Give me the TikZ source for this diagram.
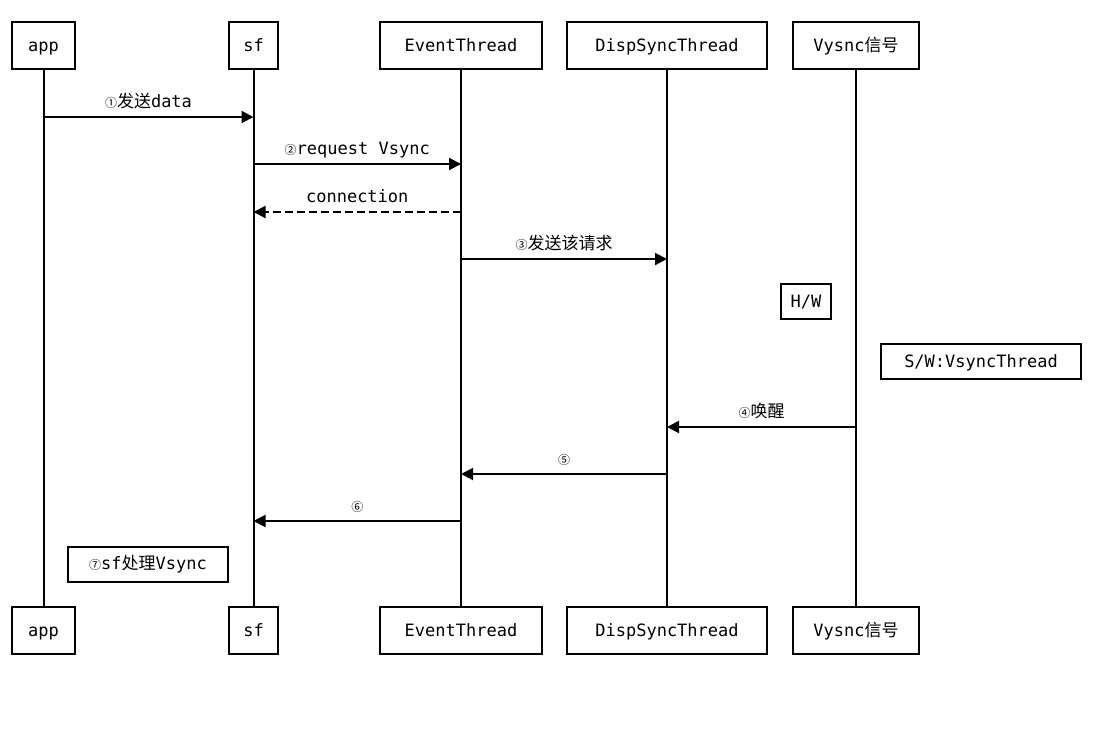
\documentclass[tikz,border=0pt]{standalone}
\usepackage{fontspec}
\setmainfont{DejaVu Sans Mono}
\newfontfamily\cjk{Noto Sans CJK SC}
\usetikzlibrary{arrows.meta}
\tikzset{
  obj/.style={draw, line width=2pt, minimum height=47pt, inner sep=0pt, text height=14pt, text depth=3pt, font=\fontsize{17}{20}\selectfont},
  note/.style={draw, line width=2pt, minimum height=35pt, inner sep=0pt, text height=14pt, text depth=3pt, font=\fontsize{17}{20}\selectfont},
  msg/.style={line width=2pt, -{Triangle[length=12pt,width=12pt]}},
  lbl/.style={above=3pt, inner sep=2pt, text height=12pt, text depth=3.5pt, font=\fontsize{17}{20}\selectfont},
}
\newcommand{\num}[1]{{\cjk\fontsize{12}{14}\selectfont #1}}
\begin{document}
\begin{tikzpicture}[x=1pt,y=-1pt]
\useasboundingbox (0,0) rectangle (1115,755);
%objects, top and bottom, with lifelines
\foreach \n/\x/\w/\t in {app/43.5/63/app, sf/253.5/49/sf, et/461/162/EventThread, ds/667/200/DispSyncThread, vs/856/126/{Vysnc{\cjk 信号}}}{
  \node[obj, minimum width=\w pt] (\n Top) at (\x,45.5) {\t};
  \node[obj, minimum width=\w pt] (\n Bot) at (\x,630.5) {\t};
  \draw[line width=2pt] (\n Top) -- (\n Bot);
}
%messages
\draw[msg] (appTop |- 0,117) -- node[lbl] {\num{①}{\cjk 发送}data} (sfTop |- 0,117);
\draw[msg] (sfTop |- 0,164) -- node[lbl] {\num{②}request Vsync} (etTop |- 0,164);
\draw[msg, dash pattern=on 8pt off 4pt] (etTop |- 0,212) -- node[lbl] {connection} (sfTop |- 0,212);
\draw[msg] (etTop |- 0,259) -- node[lbl] {\num{③}{\cjk 发送该请求}} (dsTop |- 0,259);
\draw[msg] (vsTop |- 0,427) -- node[lbl] {\num{④}{\cjk 唤醒}} (dsTop |- 0,427);
\draw[msg] (dsTop |- 0,474) -- node[lbl] {\num{⑤}} (etTop |- 0,474);
\draw[msg] (etTop |- 0,521) -- node[lbl] {\num{⑥}} (sfTop |- 0,521);
%notes
\node[note, minimum width=50pt] (hw) at (806,301.5) {H/W};
\node[note, minimum width=200pt] (sw) at (981,361.5) {S/W:VsyncThread};
\node[note, minimum width=160pt, fill=white] (sfv) at (148,564) {\num{⑦}sf{\cjk 处理}Vsync};
\end{tikzpicture}
\end{document}
